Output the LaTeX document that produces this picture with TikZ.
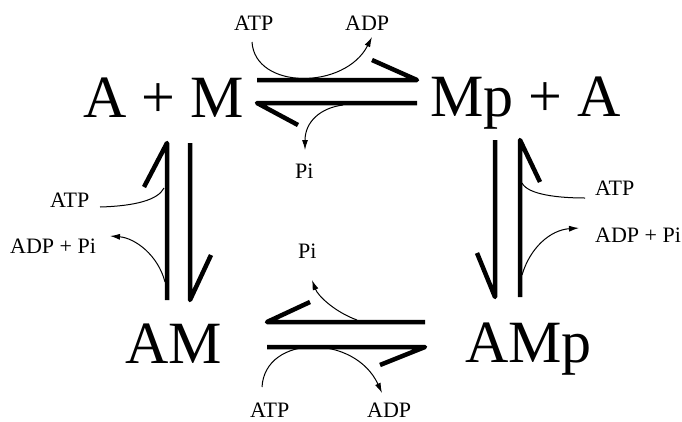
\documentclass[tikz,border=0pt]{standalone}
\usepackage{fontspec}
\setmainfont{Liberation Serif}
\usetikzlibrary{arrows.meta}

\begin{document}
\begin{tikzpicture}[
    x=1pt, y=-1pt,
    species/.style={anchor=base west, inner sep=0pt, font=\fontsize{60}{60}\selectfont},
    cofactor/.style={anchor=base west, inner sep=0pt, font=\fontsize{22}{22}\selectfont},
    rail/.style={line width=4.5pt, line join=round},
    hook/.style={line width=1pt},
    hookarrow/.style={hook, -{Latex[length=10pt,width=6pt]}}
]
\useasboundingbox (0,0) rectangle (682,421);

% species
\node[species] (am0) at (83,117) {A + M};
\node[species] (mpa) at (430,116) {Mp + A};
\node[species] (am) at (125,363) {AM};
\node[species] (amp) at (465,362) {AMp};

% cofactors
\node[cofactor] (atpT) at (234,30) {ATP};
\node[cofactor] (adpT) at (345,30) {ADP};
\node[cofactor] (piT) at (295,178) {Pi};
\node[cofactor] (atpL) at (50,207) {ATP};
\node[cofactor] (adpL) at (10,253) {ADP + Pi};
\node[cofactor] (atpR) at (595,195) {ATP};
\node[cofactor] (adpR) at (595,242) {ADP + Pi};
\node[cofactor] (piB) at (298,258) {Pi};
\node[cofactor] (atpB) at (250,417) {ATP};
\node[cofactor] (adpB) at (367,417) {ADP};

% ends of the curved arrows
\coordinate (tIn) at (252,42);
\coordinate (tOut) at (372,37);
\coordinate (tPiFrom) at (343,105);
\coordinate (tPiTo) at (305,150);
\coordinate (lIn) at (100,207);
\coordinate (lMeet) at (164,188);
\coordinate (lFrom) at (165,282);
\coordinate (lOut) at (110,236);
\coordinate (rMeet) at (522,183);
\coordinate (rIn) at (585,198);
\coordinate (rFrom) at (522,275);
\coordinate (rOut) at (579,228);
\coordinate (bPiFrom) at (357,320);
\coordinate (bPiTo) at (312,280);
\coordinate (bIn) at (262,387);
\coordinate (bOut) at (382,393);

% harpoons
\draw[rail] (257,80) -- (417,80) -- (372,60);
\draw[rail] (417,103) -- (257,103) -- (298,125);
\draw[rail] (167,300) -- (167,143) -- (144,187);
\draw[rail] (190,143) -- (190,300) -- (211,255);
\draw[rail] (495,140) -- (495,297) -- (477,253);
\draw[rail] (520,297) -- (520,140) -- (540,182);
\draw[rail] (425,322) -- (267,322) -- (310,302);
\draw[rail] (267,347) -- (425,347) -- (380,365);

% top
\draw[hookarrow] (tIn) .. controls (255,90) and (345,90) .. (tOut);
\draw[hookarrow] (tPiFrom) .. controls (320,108) and (305,122) .. (tPiTo);
% left
\draw[hook] (lIn) .. controls (135,206) and (158,200) .. (lMeet);
\draw[hookarrow] (lFrom) .. controls (158,255) and (135,238) .. (lOut);
% right
\draw[hook] (rMeet) .. controls (528,195) and (560,198) .. (rIn);
\draw[hookarrow] (rFrom) .. controls (530,248) and (550,230) .. (rOut);
% bottom
\draw[hookarrow] (bPiFrom) .. controls (335,312) and (318,296) .. (bPiTo);
\draw[hookarrow] (bIn) .. controls (265,334) and (355,334) .. (bOut);

\end{tikzpicture}
\end{document}
